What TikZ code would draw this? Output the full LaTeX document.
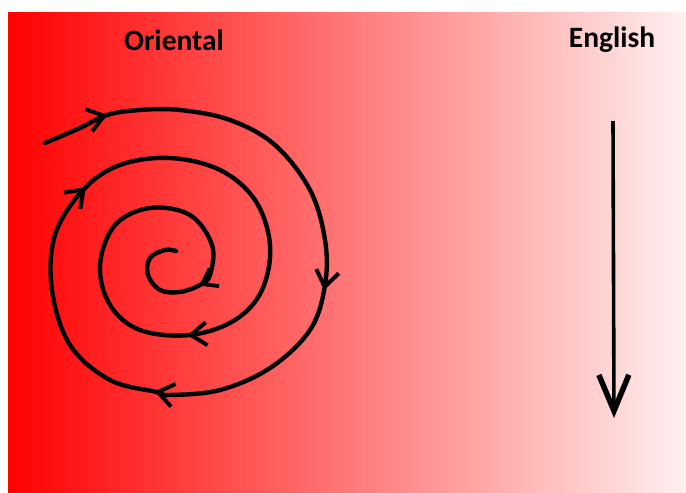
\documentclass[tikz,border=0pt]{standalone}
\usepackage{fontspec}
\setmainfont{Carlito}
\usetikzlibrary{arrows.meta,decorations.markings}
\tikzset{
  sbarb/.tip={Straight Barb[length=16pt,width=23pt,line width=4pt]},
  ibarb/.tip={Straight Barb[length=14pt,width=20pt,line width=3.8pt]}
}
\begin{document}
\begin{tikzpicture}[x=1pt,y=-1pt,
  label/.style={font=\bfseries\fontsize{29.5}{34}\selectfont, text=black, inner sep=0pt},
  ink/.style={line width=4.4pt, line cap=round, line join=round, draw=black},
  barb/.style={decoration={markings,
     mark=at position 0.040 with {\arrow{sbarb}},
     mark=at position 0.236 with {\arrow{sbarb}},
     mark=at position 0.364 with {\arrow{sbarb}},
     mark=at position 0.522 with {\arrow{sbarb}},
     mark=at position 0.741 with {\arrow{sbarb}},
     mark=at position 0.938 with {\arrow{ibarb}}},
     postaction={decorate}}]
\useasboundingbox (0,0) rectangle (686,493);
\fill[white] (0,0) rectangle (686,493);
\shade[left color=red, right color=red!6] (8,12) rectangle (686,493);

\node[label] (oriental) at (174,40) {Oriental};
\node[label] (english) at (612,40) {English};

% spiral
\draw[ink, barb] plot[smooth, tension=0.6] coordinates {
 (45,143) (80,128) (107,115) (140,110) (180,110) (230,120) (275,145)
 (310,190) (325,240) (325,285) (310,330) (270,368) (220,390) (170,395)
 (157,392) (110,380) (70,345) (52,290) (55,235) (83,190) (120,165)
 (170,158) (220,170) (255,200) (270,245) (262,290) (235,320) (190,335)
 (140,330) (110,305) (100,265) (115,225) (150,208) (190,215) (212,245)
 (210,275) (200,285) (180,292) (160,290) (148,275) (150,258) (165,250) (176,251)};

% English arrow
\coordinate (etop) at (613,121);
\coordinate (ebot) at (614,418);
\draw[line width=3.6pt, -{Straight Barb[length=36pt,width=30pt,line width=5.5pt]}] (etop) -- (ebot);
\end{tikzpicture}
\end{document}
